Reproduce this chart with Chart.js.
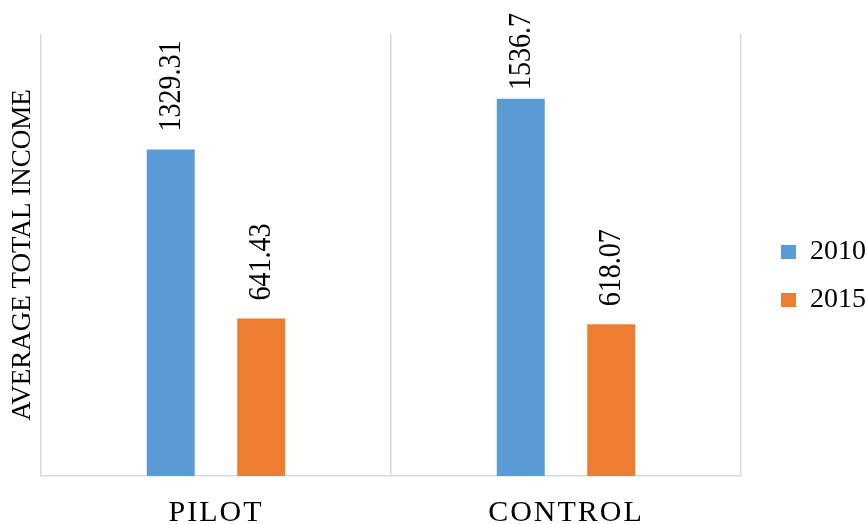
<!DOCTYPE html>
<html lang="en">
<head>
    <meta charset="UTF-8">
    <title>Average Total Income</title>
    <script src="https://cdn.jsdelivr.net/npm/chart.js"></script>
    <style>
        body {
            margin: 0;
            background: white;
        }
    </style>
</head>
<body>
    <canvas id="chart" width="866" height="524"></canvas>

    <script>
        const groups = ['PILOT', 'CONTROL'];
        const years = ['2010', '2015'];
        const income2010 = [1329.31, 1536.7];
        const income2015 = [641.43, 618.07];
        const yMax = 1800;

        const serif = "'Liberation Serif', 'Times New Roman', serif";

        // value labels standing on top of each bar, turned upright
        const valueLabels = {
            id: 'valueLabels',
            afterDatasetsDraw(chart) {
                const ctx = chart.ctx;
                ctx.save();
                ctx.font = '28px ' + serif;
                ctx.fillStyle = '#000';
                ctx.textAlign = 'left';
                ctx.textBaseline = 'middle';
                chart.data.datasets.forEach((ds, i) => {
                    chart.getDatasetMeta(i).data.forEach((bar, j) => {
                        const text = String(ds.data[j]);
                        const w = ctx.measureText(text).width;
                        const end = Math.max(bar.y - 18, 13 + w);
                        ctx.save();
                        ctx.translate(bar.x + 1, end);
                        ctx.rotate(-Math.PI / 2);
                        ctx.scale(1, 1.1);
                        ctx.fillText(text, 0, 0);
                        ctx.restore();
                    });
                });
                ctx.restore();
                // slightly spaced capitals for the category labels drawn next
                ctx.letterSpacing = '2px';
            },
            afterDraw(chart) {
                chart.ctx.letterSpacing = '0px';
            },
            afterLayout(chart) {
                const lg = chart.legend;
                lg.left += 20;
                lg.right += 20;
                lg.top -= 3;
                lg.bottom -= 3;
            }
        };

        new Chart(document.getElementById('chart'), {
            type: 'bar',
            data: {
                labels: groups,
                datasets: [
                    {
                        label: years[0],
                        data: income2010,
                        backgroundColor: '#5B9BD5'
                    },
                    {
                        label: years[1],
                        data: income2015,
                        backgroundColor: '#ED7D31'
                    }
                ]
            },
            options: {
                responsive: false,
                animation: false,
                color: '#000',
                categoryPercentage: 0.517,
                barPercentage: 0.53,
                layout: {
                    padding: { top: 34, right: 10, left: 0, bottom: 0 }
                },
                plugins: {
                    legend: {
                        position: 'right',
                        labels: {
                            boxWidth: 15,
                            boxHeight: 14,
                            padding: 20,
                            color: '#000',
                            font: { family: serif, size: 28 }
                        }
                    },
                    tooltip: { enabled: false }
                },
                scales: {
                    x: {
                        grid: {
                            color: '#d9d9d9',
                            lineWidth: 1.5,
                            drawTicks: false
                        },
                        border: { color: '#d9d9d9', width: 1.5 },
                        ticks: {
                            z: 1,
                            padding: 19,
                            color: '#000',
                            font: { family: serif, size: 30 }
                        },
                        afterFit(scale) {
                            scale.height = 48;
                        }
                    },
                    y: {
                        min: 0,
                        max: yMax,
                        grid: { display: false },
                        border: { display: false },
                        ticks: { display: false },
                        title: {
                            display: true,
                            text: 'AVERAGE TOTAL INCOME',
                            color: '#000',
                            padding: { top: 7, bottom: 2 },
                            font: { family: serif, size: 27 }
                        },
                        afterFit(scale) {
                            scale.width = 41;
                        }
                    }
                }
            },
            plugins: [valueLabels]
        });
    </script>
</body>
</html>
